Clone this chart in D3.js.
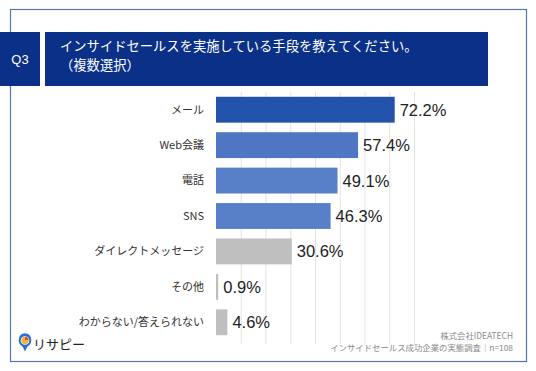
<!DOCTYPE html>
<html><head><meta charset="utf-8">
<script src="https://cdn.jsdelivr.net/npm/d3@7"></script>
<style>body{margin:0;background:#fff}svg{display:block}</style>
</head><body>
<script>
const categories = ["メール","Web会議","電話","SNS","ダイレクトメッセージ","その他","わからない/答えられない"];
const values = [72.2,57.4,49.1,46.3,30.6,0.9,4.6];
const barColors = ["#2352ab","#4e76c2","#5880c8","#5880c8","#bfbfbf","#bfbfbf","#bfbfbf"];
const gridTicks = [10,20,30,40,50,60,70,80];
const titleLines = ["インサイドセールスを実施している手段を教えてください。","（複数選択）"];
const qLabel = "Q3";
const footerLines = ["株式会社IDEATECH","インサイドセールス成功企業の実態調査｜n=108"];

const W=536,H=371;
const svg=d3.select("body").append("svg").attr("width",W).attr("height",H);
const jp="'Noto Sans CJK JP','Noto Sans',sans-serif";
const num="'Liberation Sans',Arial,sans-serif";

svg.append("rect").attr("x",10.5).attr("y",9.5).attr("width",516).attr("height",352)
  .attr("fill","#fff").attr("stroke","#5577a8").attr("stroke-width",1.2);

svg.append("rect").attr("x",0).attr("y",32).attr("width",40).attr("height",54).attr("fill","#0a3187");
svg.append("rect").attr("x",45).attr("y",32).attr("width",443).attr("height",54).attr("fill","#0a3187");
svg.append("text").attr("x",20).attr("y",59).attr("dy","0.35em").attr("text-anchor","middle")
  .attr("fill","#fff").attr("font-family",num).attr("font-size",13).text(qLabel);
svg.selectAll("text.title").data(titleLines).enter().append("text").attr("class","title")
  .attr("x",60).attr("y",(d,i)=>46.5+i*18.5).attr("dy","0.35em").attr("fill","#fff")
  .attr("font-family",jp).attr("font-size",13.3).text(d=>d);

const x=d3.scaleLinear().domain([0,80]).range([216,414]);
const y=d3.scaleBand().domain(categories).range([92,340]).paddingInner(0.27).paddingOuter(0.135);

svg.selectAll("line.grid").data(gridTicks).enter().append("line").attr("class","grid")
  .attr("x1",d=>x(d)+0.5).attr("x2",d=>x(d)+0.5).attr("y1",92).attr("y2",344)
  .attr("stroke","#e3e3e3").attr("stroke-width",1);

svg.selectAll("rect.bar").data(values).enter().append("rect").attr("class","bar")
  .attr("x",x(0)).attr("y",(d,i)=>y(categories[i])).attr("width",d=>x(d)-x(0))
  .attr("height",y.bandwidth()).attr("fill",(d,i)=>barColors[i]);

svg.selectAll("text.val").data(values).enter().append("text").attr("class","val")
  .attr("x",d=>x(d)+5).attr("y",(d,i)=>y(categories[i])+y.bandwidth()/2).attr("dy","0.36em")
  .attr("font-family",num).attr("font-size",16.5).attr("fill","#222").text(d=>d.toFixed(1)+"%");

svg.selectAll("text.cat").data(categories).enter().append("text").attr("class","cat")
  .attr("x",204).attr("y",d=>y(d)+y.bandwidth()/2).attr("dy","0.35em").attr("text-anchor","end")
  .attr("font-family",jp).attr("font-size",11).attr("fill","#333").text(d=>d);

svg.selectAll("text.foot").data(footerLines).enter().append("text").attr("class","foot")
  .attr("x",513).attr("y",(d,i)=>336+i*12).attr("dy","0.35em").attr("text-anchor","end")
  .attr("font-family",jp).attr("font-size",8.4).attr("fill","#8a8a8a").text(d=>d);

// logo
const g=svg.append("g");
g.append("path").attr("d","M25,351.5 L21.5,344 A6,6 0 1 1 28.5,344 Z").attr("fill","#2a6fd6");
g.append("circle").attr("cx",25).attr("cy",340.5).attr("r",6.3).attr("fill","#2a6fd6");
g.append("circle").attr("cx",25).attr("cy",340.5).attr("r",4.3).attr("fill","#fff");
g.append("path").attr("d","M25,340.5 L25,336.8 A3.7,3.7 0 0 1 28.7,340.5 Z").attr("fill","#e84b3c");
g.append("path").attr("d","M25,340.5 L28.7,340.5 A3.7,3.7 0 1 1 25,336.8 Z").attr("fill","#f5b82e");
g.append("text").attr("x",33).attr("y",344).attr("dy","0.35em").attr("font-family",jp)
  .attr("font-size",13).attr("fill","#222").text("リサピー");
</script>
</body></html>
